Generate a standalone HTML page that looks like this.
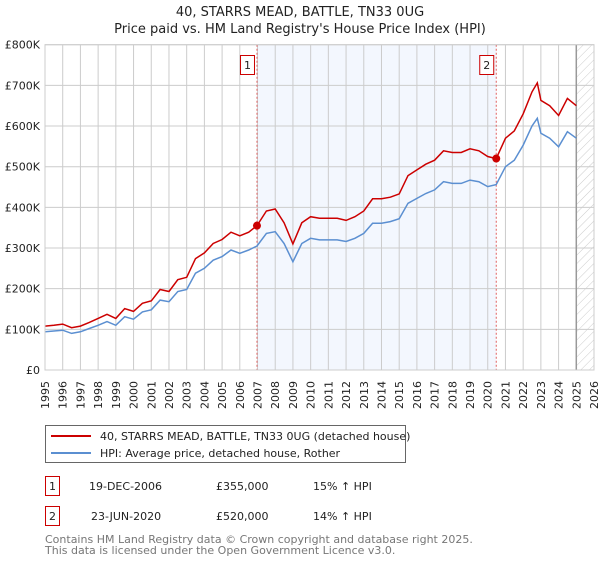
<!DOCTYPE html>
<html><head><meta charset="utf-8"><style>
body{margin:0;background:#fff;font-family:"Liberation Sans","DejaVu Sans",sans-serif;}
svg text{font-family:"DejaVu Sans","Liberation Sans",sans-serif;}
</style></head><body>
<svg id="c" width="600" height="560" xmlns="http://www.w3.org/2000/svg">
<defs><pattern id="hatch" width="6" height="6" patternUnits="userSpaceOnUse" patternTransform="rotate(45)"><line x1="0" y1="0" x2="0" y2="6" stroke="#ccc" stroke-width="1"/></pattern></defs>
<text x="300" y="16" text-anchor="middle" font-size="13" fill="#222">40, STARRS MEAD, BATTLE, TN33 0UG</text>
<text x="300" y="33" text-anchor="middle" font-size="13" fill="#222">Price paid vs. HM Land Registry's House Price Index (HPI)</text>
<g id="plot"></g>
<g>
<rect x="45.5" y="425.5" width="360" height="37" fill="#fff" stroke="#666"/>
<line x1="51" y1="436" x2="91" y2="436" stroke="#cc0000" stroke-width="2"/>
<text x="100" y="440" font-size="11" fill="#222">40, STARRS MEAD, BATTLE, TN33 0UG (detached house)</text>
<line x1="51" y1="453" x2="91" y2="453" stroke="#5b8fd1" stroke-width="2"/>
<text x="100" y="457" font-size="11" fill="#222">HPI: Average price, detached house, Rother</text>
</g>
<g font-size="11" fill="#222">
<rect x="45.5" y="476.5" width="14" height="19" fill="#fff" stroke="#cc0000"/>
<text x="52.5" y="490" text-anchor="middle">1</text>
<text x="89" y="490">19-DEC-2006</text><text x="216" y="490">£355,000</text><text x="313" y="490">15% ↑ HPI</text>
<rect x="45.5" y="506.5" width="14" height="19" fill="#fff" stroke="#cc0000"/>
<text x="52.5" y="520" text-anchor="middle">2</text>
<text x="91" y="520">23-JUN-2020</text><text x="216" y="520">£520,000</text><text x="313" y="520">14% ↑ HPI</text>
</g>
<text x="45" y="543" font-size="11" fill="#777">Contains HM Land Registry data © Crown copyright and database right 2025.</text>
<text x="45" y="554" font-size="11" fill="#777">This data is licensed under the Open Government Licence v3.0.</text>
</svg>
<script>
const years=[1995,1995.5,1996,1996.5,1997,1997.5,1998,1998.5,1999,1999.5,2000,2000.5,2001,2001.5,2002,2002.5,2003,2003.5,2004,2004.5,2005,2005.5,2006,2006.5,2006.97,2007.5,2008,2008.5,2009,2009.5,2010,2010.5,2011,2011.5,2012,2012.5,2013,2013.5,2014,2014.5,2015,2015.5,2016,2016.5,2017,2017.5,2018,2018.5,2019,2019.5,2020,2020.48,2021,2021.5,2022,2022.5,2022.8,2023,2023.5,2024,2024.5,2025];
const hpiValues=[94,96,98,90,94,102,110,119,110,131,125,143,148,172,168,193,198,238,250,270,279,295,287,295,305,336,340,311,266,311,324,320,320,320,316,324,336,361,361,365,372,410,422,434,443,463,459,459,467,463,451,456,500,516,553,600,619,582,570,549,586,570];
const propertyValues=[108,110,113,104,108,117,127,137,127,151,144,164,170,198,193,222,228,274,288,311,321,339,330,339,355,391,396,362,310,362,377,373,373,373,368,377,391,421,421,425,433,478,492,506,516,539,535,535,544,539,525,520,570,588,630,684,706,663,650,626,668,650];
const yTicks=[0,100,200,300,400,500,600,700,800];
const yTickLabels=["£0","£100K","£200K","£300K","£400K","£500K","£600K","£700K","£800K"];
const xTicks=[1995,1996,1997,1998,1999,2000,2001,2002,2003,2004,2005,2006,2007,2008,2009,2010,2011,2012,2013,2014,2015,2016,2017,2018,2019,2020,2021,2022,2023,2024,2025,2026];
const sales=[{n:"1",year:2006.97,value:355},{n:"2",year:2020.48,value:520}];
const dataEnd=2025.0;
const X0=45,X1=594,Y0=370,Y1=44.7;
const xs=y=>X0+(y-1995)/(2026-1995)*(X1-X0);
const ys=v=>Y0-v/800*(Y0-Y1);
const NS="http://www.w3.org/2000/svg";
const g=document.getElementById('plot');
function mk(t,a){const e=document.createElementNS(NS,t);for(const k in a)e.setAttribute(k,a[k]);g.appendChild(e);return e;}
let e=mk('rect',{x:xs(sales[0].year),y:Y1,width:xs(sales[1].year)-xs(sales[0].year),height:Y0-Y1,fill:'#eef3fd',opacity:0.7});


e=mk('rect',{x:xs(dataEnd),y:Y1,width:X1-xs(dataEnd),height:Y0-Y1,fill:'url(#hatch)'});


xTicks.forEach(t=>{const l=mk('line',{x1:xs(t),x2:xs(t),y1:Y1,y2:Y0,stroke:'#ccc','stroke-width':1});


const tx=mk('text',{x:0,y:0,transform:`translate(${xs(t)+4},381) rotate(-90)`,'text-anchor':'end','font-size':11,fill:'#222'});tx.textContent=t;

});
yTicks.forEach((t,i)=>{const l=mk('line',{x1:X0,x2:X1,y1:ys(t),y2:ys(t),stroke:'#ccc','stroke-width':1});


const tx=mk('text',{x:40,y:ys(t)+4,'text-anchor':'end','font-size':11,fill:'#222'});tx.textContent=yTickLabels[i];

});
e=mk('line',{x1:xs(dataEnd),x2:xs(dataEnd),y1:Y1,y2:Y0,stroke:'#999','stroke-width':1.5});


sales.forEach(s=>{const l=mk('line',{x1:xs(s.year),x2:xs(s.year),y1:Y1,y2:Y0,stroke:'#e06060','stroke-dasharray':'2,2','stroke-width':1});

});
const path=(vals)=>vals.map((v,i)=>(i?'L':'M')+xs(years[i]).toFixed(1)+','+ys(v).toFixed(1)).join('');
e=mk('path',{d:path(hpiValues),fill:'none',stroke:'#5b8fd1','stroke-width':1.5});


e=mk('path',{d:path(propertyValues),fill:'none',stroke:'#cc0000','stroke-width':1.5});


sales.forEach(s=>{const c=mk('circle',{cx:xs(s.year),cy:ys(s.value),r:4,fill:'#cc0000'});


const r=mk('rect',{x:xs(s.year)-16.5,y:55.5,width:14,height:19,fill:'#fff',stroke:'#cc0000'});


const t=mk('text',{x:xs(s.year)-9.5,y:69,'text-anchor':'middle','font-size':11,fill:'#222'});t.textContent=s.n;

});
e=mk('rect',{x:X0,y:Y1,width:X1-X0,height:Y0-Y1,fill:'none',stroke:'#ccc'});


</script>
</body></html>
